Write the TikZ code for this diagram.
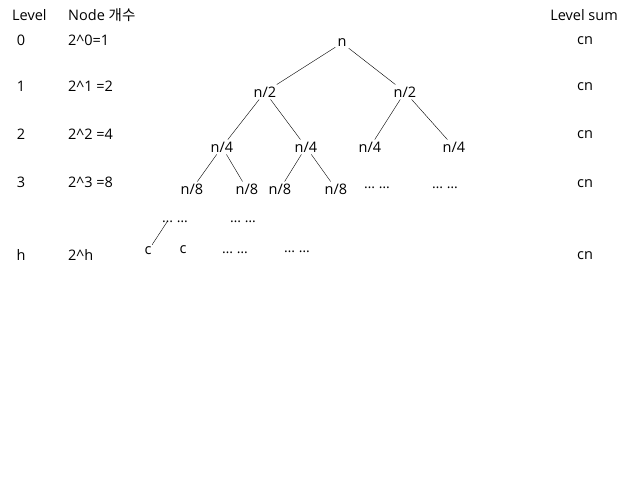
\documentclass[tikz,border=0pt]{standalone}
\usepackage{fontspec}
\setmainfont{Open Sans}
\newfontfamily\korean{Noto Sans CJK KR}
\tikzset{
    x=1pt, y=-1pt, % one unit is one pixel of the reference
    every node/.style={font=\fontsize{14.5}{17}\selectfont, inner sep=2pt}, % text of every label
    col/.style={anchor=west}, % left aligned table columns
    dots/.style={font=\fontsize{14}{16}\selectfont}, % the elided parts of the tree
}
\begin{document}
\begin{tikzpicture}
    \useasboundingbox (0,0) rectangle (640,480);
    % table on the left and right
    \node[col] (lvlhead) at (10,15) {Level};
    \node[col] (cnthead) at (66,15) {Node \korean 개수};
    \node (sumhead) at (584,15) {Level sum};
    \node (lvl0) at (21,40) {0};
    \node (lvl1) at (21,86) {1};
    \node (lvl2) at (21,134) {2};
    \node (lvl3) at (21,182) {3};
    \node (lvlh) at (21,255) {h};
    \node[col] (cnt0) at (66,40) {2\^{}0=1};
    \node[col] (cnt1) at (66,86) {2\^{}1 =2};
    \node[col] (cnt2) at (66,134) {2\^{}2 =4};
    \node[col] (cnt3) at (66,182) {2\^{}3 =8};
    \node[col] (cnth) at (66,255) {2\^{}h};
    \node (sum0) at (585,41) {cn};
    \node (sum1) at (585,87) {cn};
    \node (sum2) at (585,135) {cn};
    \node (sum3) at (585,184) {cn};
    \node (sumh) at (585,256) {cn};
    % recursion tree
    \node (n) at (342,43) {n};
    \node (nl) at (265,92) {n/2};
    \node (nr) at (405,92) {n/2};
    \node (nll) at (222,147) {n/4};
    \node (nlr) at (306,147) {n/4};
    \node (nrl) at (370,147) {n/4};
    \node (nrr) at (454,147) {n/4};
    \node (nlll) at (192,189) {n/8};
    \node (nllr) at (247,189) {n/8};
    \node (nlrl) at (280,189) {n/8};
    \node (nlrr) at (336,189) {n/8};
    \node[dots] (dotsa) at (377,188) {… …};
    \node[dots] (dotsb) at (445,188) {… …};
    \node[dots] (dotsc) at (175,222) {… …};
    \node[dots] (dotsd) at (243,222) {… …};
    \node (ca) at (148,251) {c};
    \node (cb) at (183,250) {c};
    \node[dots] (dotse) at (235,253) {… …};
    \node[dots] (dotsf) at (297,252) {… …};
    \draw (n) -- (nl);
    \draw (n) -- (nr);
    \draw (nl) -- (nll);
    \draw (nl) -- (nlr);
    \draw (nr) -- (nrl);
    \draw (nr) -- (nrr);
    \draw (nll) -- (nlll);
    \draw (nll) -- (nllr);
    \draw (nlr) -- (nlrl);
    \draw (nlr) -- (nlrr);
    \coordinate (dotsend) at (167,222);
    \draw (dotsend) -- (ca);
\end{tikzpicture}
\end{document}
